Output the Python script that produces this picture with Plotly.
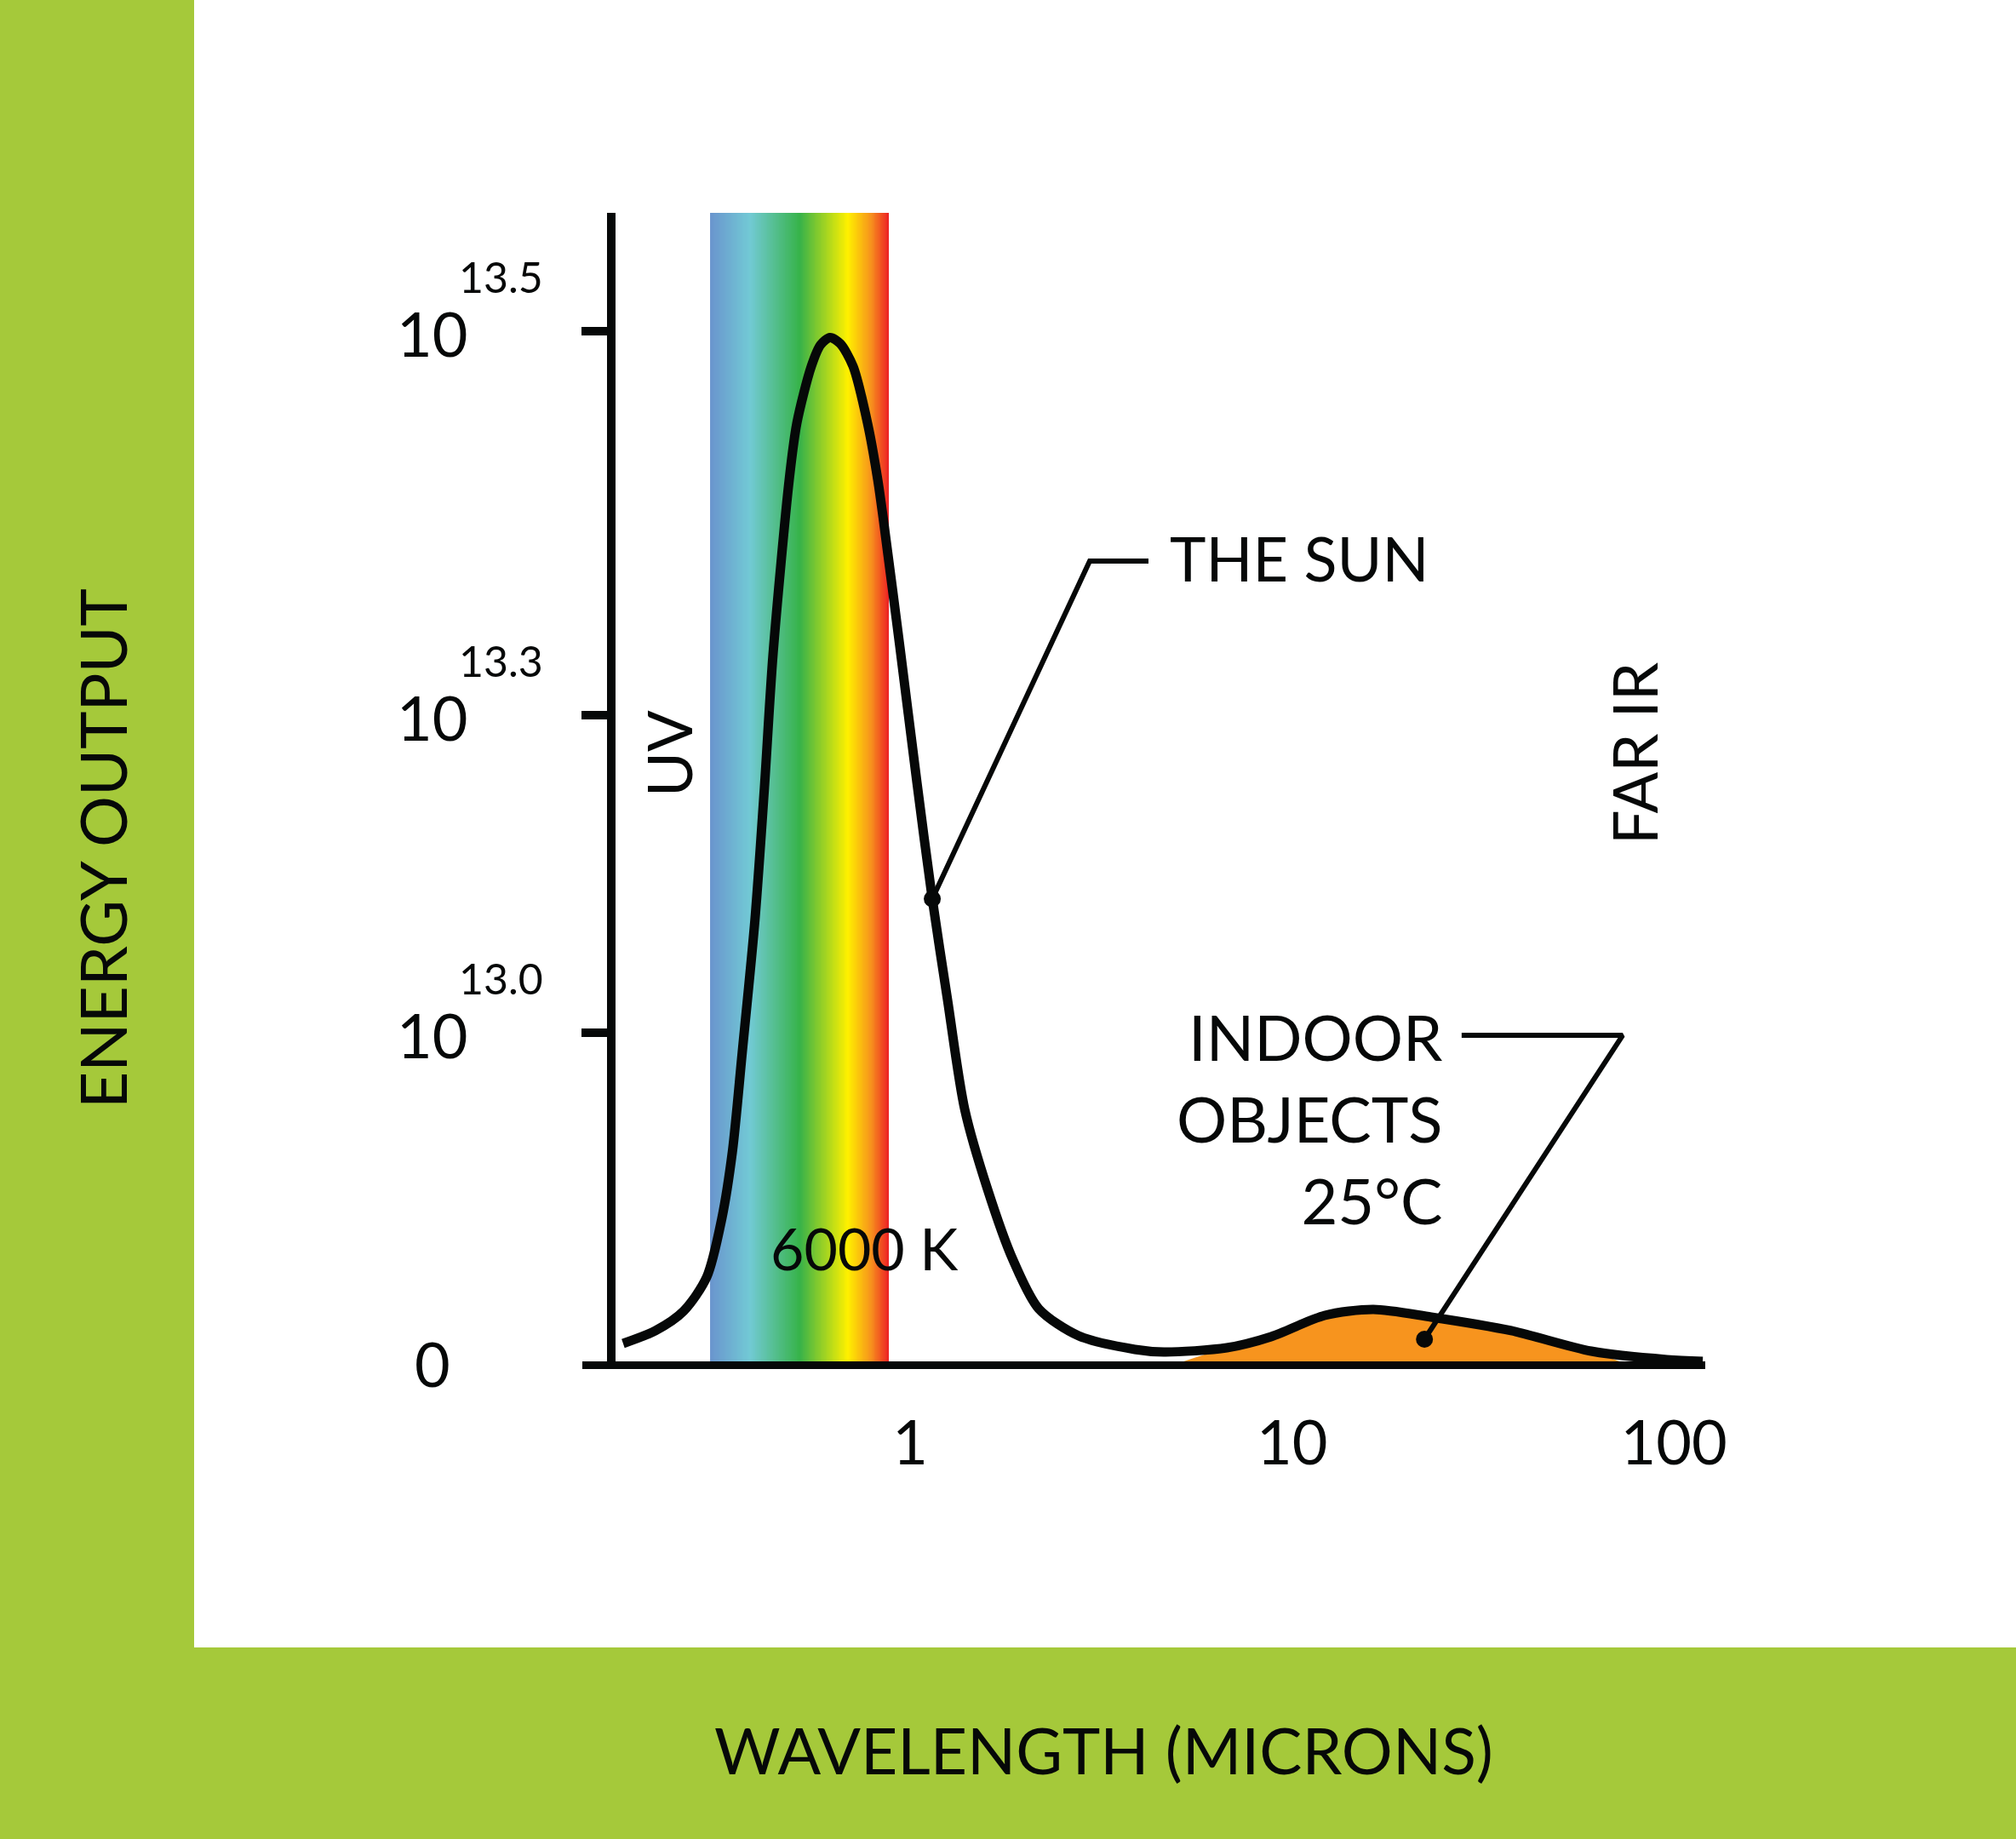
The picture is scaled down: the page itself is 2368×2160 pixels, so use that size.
import numpy as np
import plotly.graph_objects as go

# ---------------- data ----------------
# Sun (6000 K) curve, schematic: wavelength in microns, energy in relative height units
sun_wavelength_um = [0.177, 0.2152, 0.255, 0.293, 0.321, 0.342, 0.363, 0.392, 0.415, 0.437,
                     0.4819, 0.5047, 0.5506, 0.5825, 0.6166, 0.6557, 0.7083, 0.7727,
                     0.8219, 0.8518, 0.939, 1.041, 1.142, 1.252, 1.388, 1.594, 1.859, 2.169,
                     2.761, 3.876, 4.615, 6.748, 8.814, 12.18, 16.32, 23.13, 37.49, 60.75,
                     95.9, 119.0]
sun_energy = [1.74, 2.98, 4.88, 8.18, 13.88, 20.33, 30.0, 42.9, 55.7, 68.6,
              85.6, 91.1, 96.6, 98.7, 99.4, 98.8, 96.6, 91.1,
              85.6, 81.5, 69.4, 56.2, 44.9, 35.1, 24.5, 16.7, 9.83, 5.12,
              2.48, 1.16, 0.91, 1.32, 2.40, 4.46, 5.04, 4.30, 2.98, 0.99,
              0.17, 0.0]

# Indoor objects (25 °C) filled hump
indoor_wavelength_um = [5.2, 6.748, 8.814, 12.18, 16.32, 23.13, 37.49, 60.75, 72.0]
indoor_energy = [0.0, 1.32, 2.40, 4.46, 5.04, 4.30, 2.98, 0.99, 0.0]

# visible band (microns)
visible_band_um = [0.299, 0.879]
visible_colors = ["#6A96CE", "#72CAD5", "#37B34A", "#FFF100", "#F7941D", "#ED2224"]
visible_color_pos = [0.0, 0.22, 0.50, 0.77, 0.90, 1.0]

# axis ticks
y_tick_vals = [0, 31.9, 62.7, 100]
y_tick_base = ["0", "10", "10", "10"]
y_tick_exp = ["", "13.0", "13.3", "13.5"]
x_tick_vals = [1, 10, 100]
x_tick_text = ["1", "10", "100"]

# callouts (wavelength, energy)
sun_callout_index = 22
sun_callout_elbow = (2.951, 77.7)
sun_callout_end = (4.206, 77.7)
indoor_callout_point = (22.22, 2.15)
indoor_callout_elbow = (73.4, 31.65)
indoor_callout_end = (27.8, 31.65)

# ---------------- geometry / style ----------------
W, H = 2368, 2160
PX_L, PX_R, PY_T, PY_B = 684, 2003, 250, 1599
GREEN = "#A5C93A"
ORANGE = "#F7941E"
BLACK = "#060808"
FONT = "Lato"
Y_TOP = 111.5
X_RANGE = [-0.8589, 2.0821]


def px(x):
    return (x - PX_L) / (PX_R - PX_L)


def py(y):
    return (PY_B - y) / (PY_B - PY_T)


fig = go.Figure()

# visible spectrum gradient band
n = 240
edges = np.geomspace(visible_band_um[0], visible_band_um[1], n + 1)
fig.add_trace(go.Heatmap(
    x=edges, y=[0, Y_TOP], z=[np.linspace(0, 1, n)],
    colorscale=[[p, c] for p, c in zip(visible_color_pos, visible_colors)],
    zmin=0, zmax=1, showscale=False, hoverinfo="skip"))

# indoor objects fill
fig.add_trace(go.Scatter(
    x=indoor_wavelength_um, y=indoor_energy, mode="lines",
    line=dict(color=ORANGE, width=0, shape="spline", smoothing=0.8),
    fill="tozeroy", fillcolor=ORANGE, hoverinfo="skip"))

# sun curve
fig.add_trace(go.Scatter(
    x=sun_wavelength_um, y=sun_energy, mode="lines",
    line=dict(color=BLACK, width=11, shape="spline", smoothing=0.8),
    hoverinfo="skip"))

# callout lines
sx, sy = sun_wavelength_um[sun_callout_index], sun_energy[sun_callout_index]
fig.add_trace(go.Scatter(
    x=[sx, sun_callout_elbow[0], sun_callout_end[0]],
    y=[sy, sun_callout_elbow[1], sun_callout_end[1]],
    mode="lines", line=dict(color=BLACK, width=6), hoverinfo="skip"))
fig.add_trace(go.Scatter(
    x=[indoor_callout_point[0], indoor_callout_elbow[0], indoor_callout_end[0]],
    y=[indoor_callout_point[1], indoor_callout_elbow[1], indoor_callout_end[1]],
    mode="lines", line=dict(color=BLACK, width=6), hoverinfo="skip"))
fig.add_trace(go.Scatter(
    x=[sx, indoor_callout_point[0]], y=[sy, indoor_callout_point[1]],
    mode="markers", marker=dict(color=BLACK, size=20), hoverinfo="skip"))

# green frame panels
shapes = [
    dict(type="rect", xref="paper", yref="paper", x0=px(0), x1=px(228), y0=py(H), y1=py(0),
         fillcolor=GREEN, line=dict(width=0), layer="below"),
    dict(type="rect", xref="paper", yref="paper", x0=px(0), x1=px(W), y0=py(H), y1=py(1935),
         fillcolor=GREEN, line=dict(width=0), layer="below"),
]

ann = []
# y tick labels (10 with superscript exponents)
for v, b, e in zip(y_tick_vals, y_tick_base, y_tick_exp):
    ann.append(dict(text=b, xref="paper", yref="y", x=px(508), y=v, xanchor="center",
                    yanchor="middle", showarrow=False, font=dict(family=FONT, size=72, color=BLACK),
                    yshift=-2))
    if e:
        ann.append(dict(text=e, xref="paper", yref="y", x=px(588), y=v, xanchor="center",
                        yanchor="middle", showarrow=False,
                        font=dict(family=FONT, size=50, color=BLACK), yshift=64))

texts = [
    ("UV", 785, 885, 72, -90, "center"),
    ("FAR IR", 1919, 885, 72, -90, "center"),
    ("6000 K", 1015, 1465, 68, 0, "center"),
    ("THE SUN", 1372, 655, 72, 0, "left"),
    ("ENERGY OUTPUT", 120, 997, 75, -90, "center"),
    ("WAVELENGTH (MICRONS)", 1296, 2055, 75, 0, "center"),
]
for t, x, y, s, a, xa in texts:
    ann.append(dict(text=t, xref="paper", yref="paper", x=px(x), y=py(y), xanchor=xa,
                    yanchor="middle", textangle=a, showarrow=False,
                    font=dict(family=FONT, size=s, color=BLACK)))
ann.append(dict(text="INDOOR<br>OBJECTS<br>25°C", xref="paper", yref="paper", x=px(1696),
                y=py(1313), xanchor="right", yanchor="middle", align="right", showarrow=False,
                font=dict(family=FONT, size=74, color=BLACK)))

fig.update_layout(
    width=W, height=H,
    margin=dict(l=PX_L, r=W - PX_R, t=PY_T, b=H - PY_B, pad=0),
    paper_bgcolor="white", plot_bgcolor="white",
    showlegend=False,
    shapes=shapes, annotations=ann,
    xaxis=dict(type="log", range=X_RANGE, showline=True, linecolor=BLACK, linewidth=9,
               ticks="", tickvals=x_tick_vals, ticktext=x_tick_text,
               tickfont=dict(family=FONT, size=72, color=BLACK), ticklabelstandoff=26,
               showgrid=False, zeroline=False),
    yaxis=dict(range=[0, Y_TOP], anchor="free", position=px(718), showline=True,
               linecolor=BLACK, linewidth=10, ticks="outside", ticklen=30, tickwidth=10,
               tickcolor=BLACK, tickvals=y_tick_vals[1:], showticklabels=False,
               showgrid=False, zeroline=False),
)

fig.write_html("out.html", config={"displayModeBar": False},
               post_script="document.body.style.margin='0px';")
